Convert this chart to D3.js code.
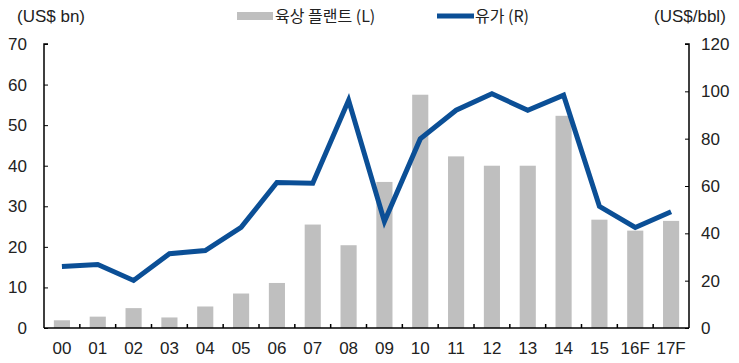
<!DOCTYPE html>
<html>
<head>
<meta charset="utf-8">
<script src="https://cdn.jsdelivr.net/npm/d3@7"></script>
<style>
  body { margin: 0; background: #fff; }
  text { font-family: "Liberation Sans", Arial, sans-serif; fill: #222; }
</style>
</head>
<body>
<div class="canvas"></div>
<script>
// data
const years = ['00','01','02','03','04','05','06','07','08','09','10','11','12','13','14','15','16F','17F'];
const plant = [1.9, 2.8, 4.9, 2.6, 5.3, 8.5, 11.1, 25.5, 20.4, 36, 57.5, 42.3, 40, 40, 52.3, 26.7, 24, 26.4]; // US$ bn
const oil = [26, 26.8, 20.1, 31.4, 32.7, 42.5, 61.5, 61.2, 96.2, 45, 79.9, 92, 99, 92, 98.4, 51.4, 42.5, 49.1]; // US$/bbl
const leftTicks = [0, 10, 20, 30, 40, 50, 60, 70];
const rightTicks = [0, 20, 40, 60, 80, 100, 120];

const W = 739, H = 363;
const mLeft = 44, mRight = 689, mTop = 44, mBottom = 328;

const svg = d3.select('.canvas').append('svg')
    .attr('width', W)
    .attr('height', H);

const x = d3.scaleBand().domain(years).range([mLeft, mRight]).paddingInner(0.55).paddingOuter(0.275);
const yL = d3.scaleLinear().domain([0, 70]).range([mBottom, mTop]);
const yR = d3.scaleLinear().domain([0, 120]).range([mBottom, mTop]);

// bars
svg.append('g').selectAll('rect')
    .data(plant)
    .join('rect')
    .attr('x', (d, i) => x(years[i]))
    .attr('y', d => yL(d))
    .attr('width', x.bandwidth())
    .attr('height', d => mBottom - yL(d))
    .attr('fill', '#bfbfbf');

// oil line
const line = d3.line()
    .x((d, i) => x(years[i]) + x.bandwidth() / 2)
    .y(d => yR(d));
svg.append('path')
    .datum(oil)
    .attr('d', line)
    .attr('fill', 'none')
    .attr('stroke', '#0b4f96')
    .attr('stroke-width', 5)
    .attr('stroke-linejoin', 'miter');

// left axis
const axL = svg.append('g')
    .attr('transform', `translate(${mLeft},0)`)
    .call(d3.axisRight(yL).tickValues(leftTicks).tickSize(4).tickFormat(d3.format('d')));
axL.select('.domain').attr('d', `M4,${mTop}H0V${mBottom}`).attr('stroke', '#000').attr('stroke-width', 1.5);
axL.selectAll('.tick line').attr('stroke', '#000');
axL.selectAll('.tick text').attr('x', -17).attr('text-anchor', 'end')
    .style('font-size', '17px').attr('fill', '#222');

// right axis
const axR = svg.append('g')
    .attr('transform', `translate(${mRight},0)`)
    .call(d3.axisLeft(yR).tickValues(rightTicks).tickSize(4).tickFormat(d3.format('d')));
axR.select('.domain').attr('d', `M-4,${mTop}H0V${mBottom}`).attr('stroke', '#000').attr('stroke-width', 1.5);
axR.selectAll('.tick line').attr('stroke', '#000');
axR.selectAll('.tick text').attr('x', 12).attr('text-anchor', 'start')
    .style('font-size', '17px').attr('fill', '#222');

// x axis
const axX = svg.append('g')
    .attr('transform', `translate(0,${mBottom})`)
    .call(d3.axisBottom(x).tickSize(0));
axX.select('.domain').attr('d', `M${mLeft},0H${mRight}`).attr('stroke', '#000').attr('stroke-width', 1.5);
axX.selectAll('.tick text').attr('y', 14).attr('dy', '0.71em')
    .style('font-size', '17px').attr('fill', '#222');
// separators between categories
svg.append('g').selectAll('line')
    .data(years.slice(1))
    .join('line')
    .attr('x1', d => x(d) - x.step() * x.paddingInner() / 2)
    .attr('x2', d => x(d) - x.step() * x.paddingInner() / 2)
    .attr('y1', mBottom)
    .attr('y2', mBottom - 4)
    .attr('stroke', '#000')
    .attr('stroke-width', 1.5);

// unit labels
svg.append('text').attr('x', 17).attr('y', 22).text('(US$ bn)').style('font-size', '17px');
svg.append('text').attr('x', 654).attr('y', 22).text('(US$/bbl)').style('font-size', '17px');

// legend
svg.append('rect').attr('x', 237).attr('y', 12).attr('width', 36).attr('height', 8).attr('fill', '#bfbfbf');
svg.append('text').attr('x', 275).attr('y', 22).text('육상 플랜트 (L)')
    .style('font-size', '16px').style('font-family', '"Noto Sans CJK KR", sans-serif');
svg.append('line').attr('x1', 437).attr('x2', 474).attr('y1', 16).attr('y2', 16)
    .attr('stroke', '#0b4f96').attr('stroke-width', 5);
svg.append('text').attr('x', 475).attr('y', 22).text('유가 (R)')
    .style('font-size', '16px').style('font-family', '"Noto Sans CJK KR", sans-serif');
</script>
</body>
</html>
